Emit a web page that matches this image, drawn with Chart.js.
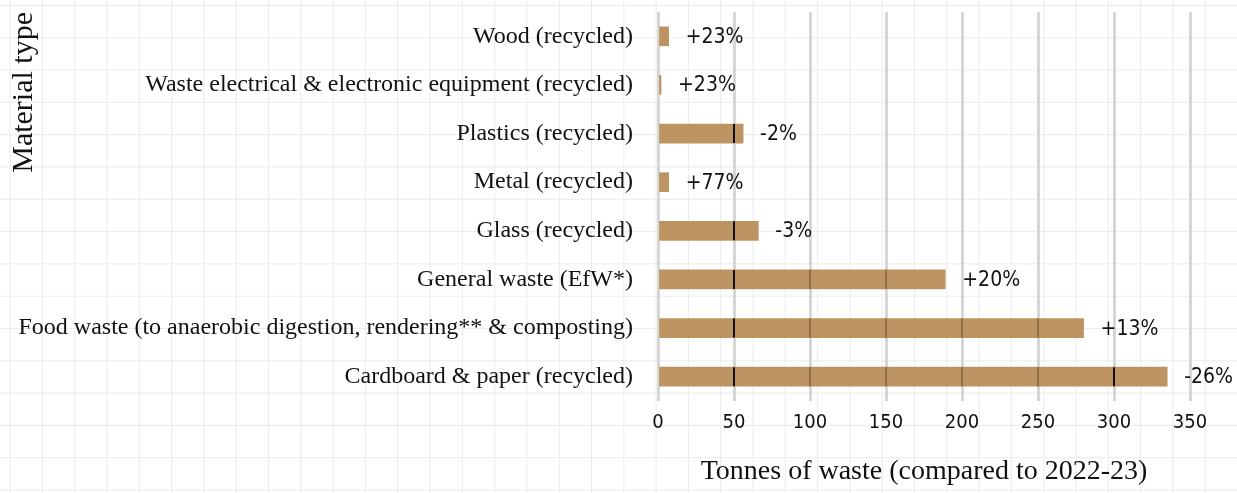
<!DOCTYPE html>
<html>
<head>
<meta charset="utf-8">
<script src="https://cdn.jsdelivr.net/npm/chart.js@4/dist/chart.umd.min.js"></script>
<style>
    html, body {
        margin: 0;
        padding: 0;
    }
    body {
        width: 1237px;
        height: 493px;
        background-color: #ffffff;
        /* squared notebook paper */
        background-image:
            linear-gradient(to right, #ebebeb 1px, transparent 1px),
            linear-gradient(to bottom, #ebebeb 1px, transparent 1px);
        background-size: 32.3px 32.3px;
        background-position: 9.7px 5px;
        overflow: hidden;
    }
    #wrap {
        position: relative;
        width: 1237px;
        height: 493px;
    }
</style>
</head>
<body>
<div id="wrap">
    <canvas id="wasteChart"></canvas>
</div>
<script>
// Waste by material type
const categories = [
    "Wood (recycled)",
    "Waste electrical & electronic equipment (recycled)",
    "Plastics (recycled)",
    "Metal (recycled)",
    "Glass (recycled)",
    "General waste (EfW*)",
    "Food waste (to anaerobic digestion, rendering** & composting)",
    "Cardboard & paper (recycled)"
];
const tonnes = [7, 2, 56, 7, 66, 189, 280, 335];
const changeLabels = ["+23%", "+23%", "-2%", "+77%", "-3%", "+20%", "+13%", "-26%"];
const xTicks = [0, 50, 100, 150, 200, 250, 300, 350];

const serifFont = "'Liberation Serif', 'DejaVu Serif', serif";
const narrowFont = "'Liberation Sans Narrow', 'DejaVu Sans Condensed', 'Liberation Sans', sans-serif";
const kraft = '#bd9461';

// Paper strip seams where the bars cross the major gridlines
const seamPlugin = {
    id: 'seams',
    afterDatasetsDraw(chart) {
        const ctx = chart.ctx;
        const xScale = chart.scales.x;
        const meta = chart.getDatasetMeta(0);
        ctx.save();
        meta.data.forEach((bar, i) => {
            const h = bar.height;
            xTicks.forEach(v => {
                if (v <= 0 || v >= tonnes[i] - 1) return;
                const x = xScale.getPixelForValue(v);
                const strong = v === 50 || v === 300;
                ctx.strokeStyle = strong ? '#111111' : 'rgba(70, 45, 20, 0.75)';
                ctx.lineWidth = strong ? 2 : 1;
                ctx.beginPath();
                ctx.moveTo(x, bar.y - h / 2);
                ctx.lineTo(x, bar.y + h / 2);
                ctx.stroke();
            });
        });
        ctx.restore();
    }
};

// Change labels to the right of each bar
const changePlugin = {
    id: 'changeLabels',
    afterDatasetsDraw(chart) {
        const ctx = chart.ctx;
        const meta = chart.getDatasetMeta(0);
        ctx.save();
        ctx.font = '21px ' + narrowFont;
        ctx.fillStyle = '#111111';
        ctx.textAlign = 'left';
        ctx.textBaseline = 'middle';
        meta.data.forEach((bar, i) => {
            ctx.fillText(changeLabels[i], bar.x + 17, bar.y + 1);
        });
        ctx.restore();
    }
};

const wasteChart = new Chart(document.getElementById('wasteChart'), {
    type: 'bar',
    data: {
        labels: categories,
        datasets: [{
            data: tonnes,
            backgroundColor: kraft,
            borderWidth: 0,
            barThickness: 19
        }]
    },
    options: {
        indexAxis: 'y',
        responsive: true,
        maintainAspectRatio: false,
        animation: false,
        layout: {
            padding: { top: 12, right: 47, bottom: 5, left: 0 }
        },
        plugins: {
            legend: { display: false },
            tooltip: { enabled: false }
        },
        scales: {
            x: {
                min: 0,
                max: 350,
                afterBuildTicks(scale) {
                    scale.ticks = xTicks.map(v => ({ value: v }));
                },
                afterFit(scale) {
                    scale.height = 87;
                },
                grid: {
                    color: '#d6d6d6',
                    lineWidth: 3,
                    drawTicks: false
                },
                border: { display: false },
                ticks: {
                    color: '#111111',
                    font: { family: narrowFont, size: 20 },
                    padding: 10
                },
                title: {
                    display: true,
                    text: 'Tonnes of waste (compared to 2022-23)',
                    color: '#111111',
                    font: { family: serifFont, size: 28 },
                    padding: { top: 18, bottom: 0 }
                }
            },
            y: {
                afterFit(scale) {
                    scale.width = 658;
                    scale.paddingTop = 0;
                    scale.paddingBottom = 0;
                },
                grid: { display: false },
                border: { display: false },
                ticks: {
                    color: '#111111',
                    font: { family: serifFont, size: 24 },
                    padding: 17
                },
                title: {
                    display: true,
                    text: 'Material type',
                    align: 'end',
                    color: '#111111',
                    font: { family: serifFont, size: 30 },
                    padding: { top: 6, bottom: 0 }
                }
            }
        }
    },
    plugins: [seamPlugin, changePlugin]
});
</script>
</body>
</html>
